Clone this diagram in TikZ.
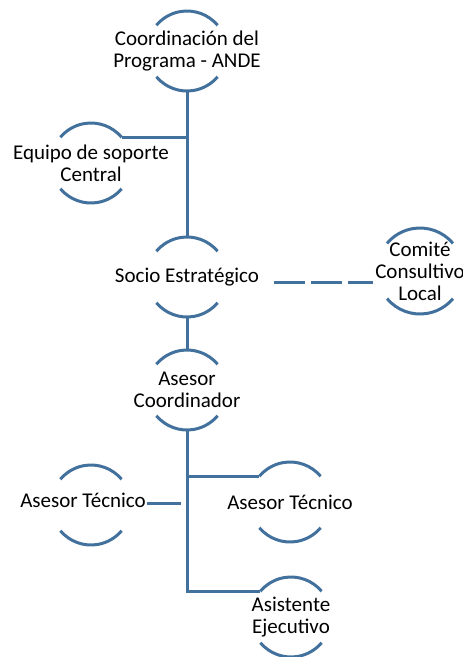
\documentclass[tikz,border=0pt]{standalone}
\usepackage{fontspec}
\setmainfont{Carlito}
\usetikzlibrary{calc}

\definecolor{azul}{HTML}{41719C}

\begin{document}
\begin{tikzpicture}[x=1pt,y=-1pt,
	texto/.style={align=center,font=\fontsize{21}{22}\selectfont,inner sep=1pt},
	linea/.style={draw=azul,line width=3pt}]
\useasboundingbox (0,0) rectangle (463,657);
\node [texto] (coord) at (187,51) {Coordinación del\\Programa - ANDE};
\node [texto] (equipo) at (91,163) {Equipo de soporte\\Central};
\node [texto] (socio) at (187,277) {Socio Estratégico};
\node [texto] (comite) at (420,271) {Comité\\Consultivo\\Local};
\node [texto] (asesorc) at (187,390) {Asesor\\Coordinador};
\node [texto] (tecizq) at (83,500) {Asesor Técnico};
\node [texto] (tecder) at (290,502) {Asesor Técnico};
\node [texto] (asist) at (291,617) {Asistente\\Ejecutivo};
% arcos arriba y abajo de cada nodo
\foreach \n/\r/\dx/\dy in {coord/40/0/0,equipo/40/0/0,socio/40/0/0,comite/43/0/0,
	asesorc/40/0/0,tecizq/40/8/-5,tecder/40/0/0,asist/40/0/0}{
	\coordinate (\n-c) at ([xshift=\dx pt,yshift=\dy pt]\n.center);
	\coordinate (\n-ne) at ([shift={(40:\r pt)}]\n-c);
	\coordinate (\n-nw) at ([shift={(140:\r pt)}]\n-c);
	\coordinate (\n-n) at ([yshift=\r pt]\n-c);
	\coordinate (\n-s) at ([yshift=-\r pt]\n-c);
	\draw [linea] (\n-ne) arc[start angle=40,end angle=140,radius=\r pt];
	\draw [linea] ([shift={(220:\r pt)}]\n-c) arc[start angle=220,end angle=320,radius=\r pt];
}
\draw [linea]
(coord-s) -- (socio-n)
(equipo-ne) -- (equipo-ne -| coord)
(socio-s) -- (asesorc-n)
(asesorc-s) -- (asist-nw -| asesorc) -- (asist-nw)
(tecder-nw -| asesorc) -- (tecder-nw)
([yshift=-3pt]tecizq.east) -- ([xshift=-6pt,yshift=-3pt]tecizq.east -| asesorc)
;
\draw [linea,dash pattern=on 31pt off 6pt]
([xshift=14pt,yshift=-5pt]socio.east) -- ([xshift=-1pt,yshift=-5pt]comite.west |- socio.east);
\end{tikzpicture}
\end{document}
